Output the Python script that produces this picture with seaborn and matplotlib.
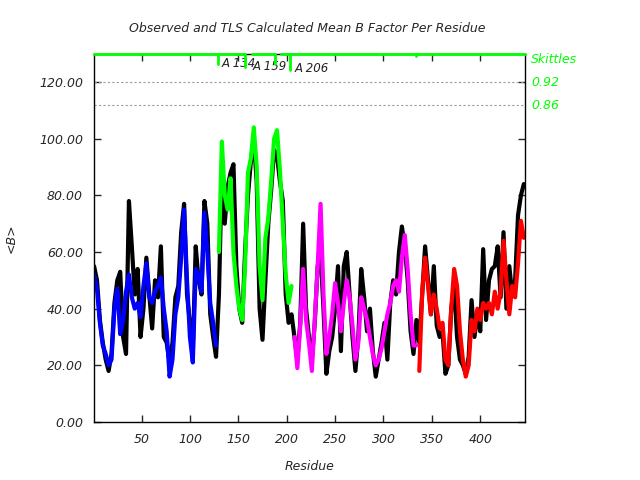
import numpy as np
import pandas as pd
import matplotlib
matplotlib.use("Agg")
import matplotlib.pyplot as plt
import matplotlib.transforms as mtransforms
import seaborn as sns

# residue numbers, read every 3rd residue
residues = [
    1, 4, 7, 10, 13, 16, 19, 22, 25, 28, 31, 34, 37, 40, 43, 46, 49, 52, 55, 58,
    61, 64, 67, 70, 73, 76, 79, 82, 85, 88, 91, 94, 97, 100, 103, 106, 109, 112, 115, 118,
    121, 124, 127,
    130, 133, 136, 139, 142, 145, 148, 151, 154, 157, 160, 163, 166, 169, 172, 175, 178, 181,
    184, 187, 190, 193, 196, 199, 202, 205,
    208, 211, 214, 217, 220, 223, 226, 229, 232, 235, 238, 241, 244, 247, 250, 253, 256, 259,
    262, 265, 268, 271, 274, 277, 280, 283, 286, 289, 292, 295, 298, 301, 304, 307, 310, 313,
    316, 319, 322, 325, 328, 331, 334,
    337, 340, 343, 346, 349, 352, 355, 358, 361, 364, 367, 370, 373, 376, 379, 382, 385, 388,
    391, 394, 397, 400, 403, 406, 409, 412, 415, 418, 421, 424, 427, 430, 433, 436, 439, 442, 445,
]

# observed mean B (black)
observed_b = [
    55, 50, 36, 28, 22, 18, 24, 42, 50, 53, 30, 24, 78, 62, 45, 54, 30, 40, 58, 45,
    33, 50, 44, 62, 30, 28, 21, 28, 44, 48, 67, 77, 45, 35, 25, 62, 50, 45, 78, 70,
    38, 30, 23,
    45, 89, 70, 83, 88, 91, 55, 40, 35, 60, 80, 92, 100, 85, 40, 29, 50, 70,
    82, 96, 94, 85, 78, 45, 35, 38,
    30, 22, 35, 70, 40, 30, 22, 35, 55, 60, 40, 17, 25, 30, 40, 55, 25, 55,
    60, 45, 30, 18, 30, 54, 44, 32, 40, 25, 16, 22, 28, 35, 22, 42, 50, 45,
    60, 69, 62, 50, 32, 24, 36,
    28, 45, 62, 50, 38, 55, 34, 30, 32, 17, 20, 40, 48, 30, 22, 20, 17, 23,
    43, 30, 38, 32, 61, 36, 50, 54, 55, 62, 44, 67, 40, 55, 45, 50, 73, 80, 84,
]

# TLS calculated mean B (coloured by TLS group)
tls_b = [
    52, 47, 35, 27, 24, 20, 22, 40, 47, 31, 36, 46, 52, 44, 40, 42, 37, 48, 56, 44,
    42, 46, 48, 51, 40, 32, 16, 22, 38, 44, 58, 75, 50, 30, 21, 54, 52, 46, 74, 60,
    42, 35, 27,
    60, 99, 80, 75, 86, 60, 48, 40, 36, 55, 88, 93, 104, 90, 55, 43, 65, 72,
    85, 100, 103, 89, 70, 52, 42, 48,
    30, 19, 34, 54, 36, 28, 18, 36, 55, 77, 45, 24, 30, 38, 49, 42, 32, 42,
    50, 44, 34, 22, 28, 44, 40, 36, 30, 24, 20, 22, 26, 32, 38, 42, 48, 50,
    46, 58, 66, 54, 38, 27, 27,
    18, 46, 58, 48, 38, 45, 40, 33, 35, 22, 20, 40, 54, 48, 32, 22, 16, 20,
    36, 32, 40, 36, 42, 40, 42, 38, 46, 40, 46, 64, 50, 38, 48, 44, 56, 71, 65,
]

group_names = ["A1", "A2", "A3", "A4"]
group_sizes = [43, 26, 43, 37]
group_colors = ["#0000ff", "#00ff00", "#ff00ff", "#ff0000"]

# skittles markers along the top
skittle_res = [129, 157, 188, 203.5, 334]
skittle_low = [126.4, 125.3, 126.4, 124.2, 129.1]
skittle_labels = ["A 134", "A 159", "", "A 206", ""]
label_x = [133, 165, 0, 208, 0]
label_y = [126.7, 125.6, 0, 124.8, 0]
top_segments = [(1, 157), (164.6, 188), (194.5, 446)]

df = pd.DataFrame({
    "Residue": residues,
    "Observed": observed_b,
    "TLS": tls_b,
    "Group": np.repeat(group_names, group_sizes),
})

sns.set_style("ticks")
plt.rcParams["font.family"] = ["DejaVu Sans"]
plt.rcParams["font.style"] = "italic"

fig = plt.figure(figsize=(6.4, 4.8), dpi=100)
ax = fig.add_axes([0.147, 0.121, 0.673, 0.767])

sns.lineplot(data=df, x="Residue", y="Observed", color="black", lw=3,
             estimator=None, sort=False, ax=ax, legend=False)
sns.lineplot(data=df, x="Residue", y="TLS", hue="Group", units="Group",
             palette=dict(zip(group_names, group_colors)), lw=3,
             estimator=None, sort=False, ax=ax, legend=False)

ax.axhline(120, color="#999999", ls=(0, (2, 2)), lw=0.8)
ax.axhline(111.9, color="#999999", ls=(0, (2, 2)), lw=0.8)

for a, b in top_segments:
    ax.plot([a, b], [130, 130], color="#00ff00", lw=2, clip_on=False, zorder=5)
for r, lo in zip(skittle_res, skittle_low):
    ax.plot([r, r], [130, lo], color="#00ff00", lw=2, clip_on=False, zorder=5)
for lab, lx, ly in zip(skittle_labels, label_x, label_y):
    if lab:
        ax.text(lx, ly, lab, fontsize=8.5, color="#222222", va="center",
                style="italic")

trans = mtransforms.blended_transform_factory(ax.transAxes, ax.transData)
ax.text(1.015, 127.8, "Skittles", transform=trans, color="#00ff00", fontsize=9,
        va="center", style="italic")
ax.text(1.015, 120, "0.92", transform=trans, color="#00ff00", fontsize=9,
        va="center", style="italic")
ax.text(1.015, 111.9, "0.86", transform=trans, color="#00ff00", fontsize=9,
        va="center", style="italic")

ax.set_xlim(1, 446)
ax.set_ylim(0, 130)
ax.set_xticks([50, 100, 150, 200, 250, 300, 350, 400])
ax.set_yticks([0, 20, 40, 60, 80, 100, 120])
ax.set_yticklabels([f"{v:.2f}" for v in [0, 20, 40, 60, 80, 100, 120]])
ax.tick_params(direction="in", top=True, right=True, length=5, width=1,
               labelsize=9, pad=8)
for s in ax.spines.values():
    s.set_linewidth(1)
    s.set_color("black")

ax.set_xlabel("Residue", fontsize=9, style="italic", labelpad=10)
ax.set_ylabel("<B>", fontsize=9, style="italic", labelpad=15)
fig.suptitle("Observed and TLS Calculated Mean B Factor Per Residue",
             x=0.48, y=0.955, fontsize=9, style="italic")

fig.savefig("out.png", dpi=100)
